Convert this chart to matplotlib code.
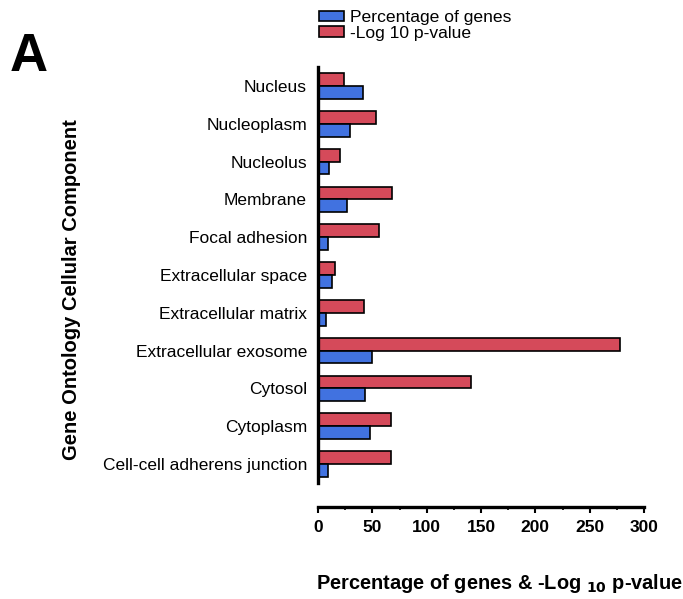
import matplotlib
matplotlib.use("Agg")
import matplotlib.pyplot as plt
import numpy as np
from matplotlib.ticker import MultipleLocator

plt.rcParams['font.family'] = ['Liberation Sans', 'DejaVu Sans']

categories = ["Nucleus", "Nucleoplasm", "Nucleolus", "Membrane", "Focal adhesion",
              "Extracellular space", "Extracellular matrix", "Extracellular exosome",
              "Cytosol", "Cytoplasm", "Cell-cell adherens junction"]
pct_genes = [41, 29, 10, 27, 9.5, 13, 7, 50, 43, 48, 9]
neg_log10_p = [24, 53, 20, 68, 56, 16, 42, 278, 141, 67, 67]
x_ticks = [0, 50, 100, 150, 200, 250, 300]

blue = "#4172e0"
red = "#d54a5a"

W, H = 683, 599
fig = plt.figure(figsize=(W / 100, H / 100), dpi=100)
ax = fig.add_axes([318 / W, 1 - 483 / H, (644 - 318) / W, (483 - 67) / H])

# spine placement first: moving a spine resets the tick styling
for s in ("top", "right"):
    ax.spines[s].set_visible(False)
ax.spines["left"].set_linewidth(2.4)
ax.spines["bottom"].set_linewidth(2.4)
ax.spines["bottom"].set_position(("outward", 17.3))

y = np.arange(len(categories))
h = 0.34
ax.barh(y - h / 2, neg_log10_p, height=h, color=red, edgecolor="black",
        linewidth=1.2, label="-Log 10 p-value")
ax.barh(y + h / 2, pct_genes, height=h, color=blue, edgecolor="black",
        linewidth=1.2, label="Percentage of genes")

ax.set_ylim(len(categories) - 0.5, -0.5)
ax.set_xlim(0, 300)
ax.set_yticks(y)
ax.set_yticklabels(categories, fontsize=12.5)
ax.tick_params(axis="y", length=0, pad=8)

ax.set_xticks(x_ticks)
ax.set_xticklabels([str(t) for t in x_ticks], fontsize=12.5, fontweight="bold")
ax.xaxis.set_minor_locator(MultipleLocator(25))
ax.tick_params(axis="x", which="major", length=4, width=1.5, pad=5)
ax.tick_params(axis="x", which="minor", length=2.5, width=1.2)

ax.set_xlabel("Percentage of genes & -Log $_{\\mathbf{10}}$ p-value", fontsize=14.4,
              fontweight="bold")
ax.xaxis.set_label_coords((500 - 318) / (644 - 318), -0.213)
fig.text(72 / W, 1 - 290 / H, "Gene Ontology Cellular Component", rotation=90,
         fontsize=14.5, fontweight="bold", ha="center", va="center")

fig.text(10 / W, 1 - 57 / H, "A", fontsize=38, fontweight="bold", ha="left", va="center")

handles, labels = ax.get_legend_handles_labels()
fig.legend(handles[::-1], labels[::-1], loc="upper left",
           bbox_to_anchor=(312 / W, 1 - 3 / H), frameon=False, fontsize=12.6,
           handlelength=1.45, handleheight=0.55, labelspacing=0.05, handletextpad=0.3,
           borderaxespad=0)

fig.savefig("out.png", dpi=100)
